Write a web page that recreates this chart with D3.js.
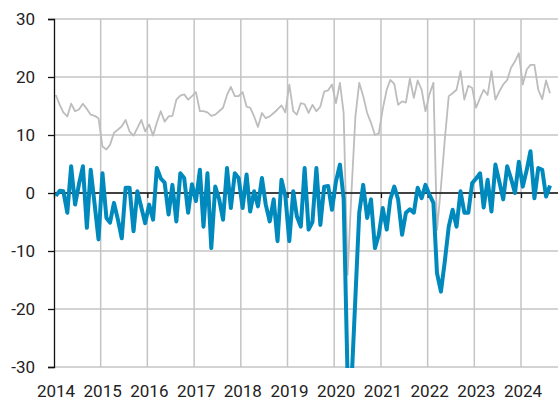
<!DOCTYPE html>
<html>
<head>
<meta charset="utf-8">
<script src="https://cdn.jsdelivr.net/npm/d3@7"></script>
<style>
  body { margin: 0; background: #fff; }
  svg { display: block; font-family: Roboto, "Open Sans", sans-serif; }
</style>
</head>
<body>
<svg id="chart" width="558" height="400"></svg>
<script>
// monthly values, Jan 2014 .. Aug 2024
var years = [2014, 2015, 2016, 2017, 2018, 2019, 2020, 2021, 2022, 2023, 2024];
var yTicks = [-30, -20, -10, 0, 10, 20, 30];

var grayLine = [
  16.9, 15.2, 13.9, 13.2, 15.4, 14.1, 14.4, 15.4, 14.5, 13.5, 13.3, 12.9,
  8.0, 7.5, 8.3, 10.4, 10.9, 11.5, 12.6, 10.6, 9.9, 11.2, 12.6, 10.6,
  11.8, 9.9, 12.1, 14.1, 12.3, 13.2, 13.3, 16.1, 16.8, 17.0, 16.1, 16.7,
  17.4, 14.1, 14.1, 13.9, 13.3, 13.5, 14.1, 14.7, 16.9, 18.3, 16.7, 16.7,
  17.4, 14.9, 14.7, 13.2, 11.4, 13.8, 12.9, 13.2, 13.8, 14.4, 15.1, 13.9,
  18.7, 14.1, 13.5, 15.5, 15.3, 13.8, 15.2, 14.1, 14.9, 17.5, 17.7, 18.7,
  15.5, 19.0, 13.8, -14.1, 0.0, 13.2, 19.0, 16.7, 13.8, 12.1, 10.0, 10.3,
  14.5, 17.8, 19.5, 18.8, 15.2, 15.8, 15.6, 19.7, 16.4, 19.4, 17.8, 14.1,
  17.0, 19.0, -6.4, 1.0, 9.2, 16.7, 17.2, 17.8, 21.0, 16.1, 18.5, 18.1,
  14.7, 16.4, 17.8, 16.9, 21.0, 16.1, 17.5, 18.7, 19.5, 21.6, 22.7, 24.1,
  18.7, 21.3, 22.1, 22.1, 17.8, 16.2, 19.4, 17.2
];

var blueLine = [
  -0.5, 0.4, 0.3, -3.4, 4.6, -2.0, 1.5, 4.6, -6.0, 4.0, -2.0, -8.0,
  3.4, -4.3, -5.1, -1.7, -4.5, -7.8, 0.9, 0.9, -6.6, 0.3, -2.5, -5.2,
  -2.0, -4.6, 4.3, 2.5, 1.8, -3.7, 1.4, -4.9, 3.4, 2.6, -3.4, 1.5,
  -1.4, 4.0, -5.8, 3.4, -9.5, 1.1, -1.0, -4.6, 4.3, -2.6, 3.4, 2.6,
  -2.6, 3.2, -3.2, 0.3, -2.3, 2.6, -2.0, -4.9, -1.1, -8.3, 2.3, -0.5,
  -8.3, 0.3, -4.0, -5.8, 4.3, -6.3, -5.0, 4.3, -5.5, 1.1, 1.2, -2.9,
  2.0, 4.9, -1.0, -32.0, -33.0, -18.0, -3.4, 1.4, -4.3, -1.1, -9.5, -7.2,
  -2.6, -6.3, -1.1, 1.1, -1.1, -7.2, -3.4, -2.8, -3.4, 0.9, -0.9, 1.4,
  -0.3, -1.7, -13.8, -17.0, -11.8, -5.8, -2.9, -5.8, 0.3, -3.4, -3.4, 1.7,
  2.5, 3.4, -2.5, 2.3, -3.2, 4.9, 2.0, -1.1, 4.6, 2.5, 0.0, 5.4,
  1.1, 4.0, 7.2, -0.9, 4.3, 4.0, -0.6, 1.3
];

var months = grayLine.map(function(d, i) {
  return new Date(2014 + Math.floor(i / 12), i % 12, 15);
});

var svg = d3.select("#chart");
var plotL = 54, plotR = 558, plotT = 19, plotB = 367;

var x = d3.scaleTime()
    .domain([new Date(2014, 0, 1), new Date(2024, 0, 1)])
    .range([plotL, 521]);
var y = d3.scaleLinear().domain([-30, 30]).range([plotB, plotT]);

// grid
svg.append("g").selectAll("line")
    .data(yTicks)
  .enter().append("line")
    .attr("x1", plotL).attr("x2", plotR)
    .attr("y1", function(d) { return y(d); }).attr("y2", function(d) { return y(d); })
    .attr("stroke", "#c4c4c4").attr("stroke-width", 1.5);
svg.append("g").selectAll("line")
    .data(years.slice(1))
  .enter().append("line")
    .attr("x1", function(d) { return x(new Date(d, 0, 1)); })
    .attr("x2", function(d) { return x(new Date(d, 0, 1)); })
    .attr("y1", plotT).attr("y2", plotB)
    .attr("stroke", "#c4c4c4").attr("stroke-width", 1.5);

svg.append("defs").append("clipPath").attr("id", "plot")
  .append("rect").attr("x", plotL).attr("y", 0).attr("width", plotR - plotL).attr("height", plotB + 1);

var line = d3.line()
    .x(function(d, i) { return x(months[i]); })
    .y(function(d) { return y(d); });

svg.append("path").datum(grayLine)
    .attr("clip-path", "url(#plot)")
    .attr("fill", "none").attr("stroke", "#bdbdbd").attr("stroke-width", 1.8)
    .attr("stroke-linejoin", "round")
    .attr("d", line);

// zero line with year ticks
svg.append("g")
    .attr("transform", "translate(0," + y(0) + ")")
    .call(d3.axisBottom(x).tickValues(years.map(function(d) { return new Date(d, 0, 1); }))
      .tickSize(5).tickFormat(""))
    .call(function(g) {
      g.select(".domain").attr("d", "M" + plotL + ",0H" + plotR).attr("stroke", "#111").attr("stroke-width", 1.3);
      g.selectAll(".tick line").attr("stroke", "#111").attr("stroke-width", 1.3);
    });

svg.append("path").datum(blueLine)
    .attr("clip-path", "url(#plot)")
    .attr("fill", "none").attr("stroke", "#0089bd").attr("stroke-width", 4)
    .attr("stroke-linejoin", "round")
    .attr("d", line);

// left axis (plain hyphen for negatives, like the original)
svg.append("g")
    .attr("transform", "translate(" + plotL + ",0)")
    .call(d3.axisLeft(y).tickValues(yTicks).tickSize(6).tickPadding(13)
      .tickFormat(function(d) { return String(d); }))
    .call(function(g) {
      g.select(".domain").attr("stroke", "#111").attr("stroke-width", 1.3);
      g.selectAll(".tick line").attr("stroke", "#111").attr("stroke-width", 1.3);
      g.selectAll(".tick text").attr("font-size", "17px").attr("fill", "#222")
        .attr("font-family", "Roboto, sans-serif");
    });

// year labels
svg.append("g").selectAll("text")
    .data(years)
  .enter().append("text")
    .attr("x", function(d) { return x(new Date(d, 0, 1)) + 2; })
    .attr("y", 397)
    .attr("text-anchor", "middle")
    .attr("font-size", "17px")
    .attr("fill", "#222")
    .text(function(d) { return d; });
</script>
</body>
</html>
